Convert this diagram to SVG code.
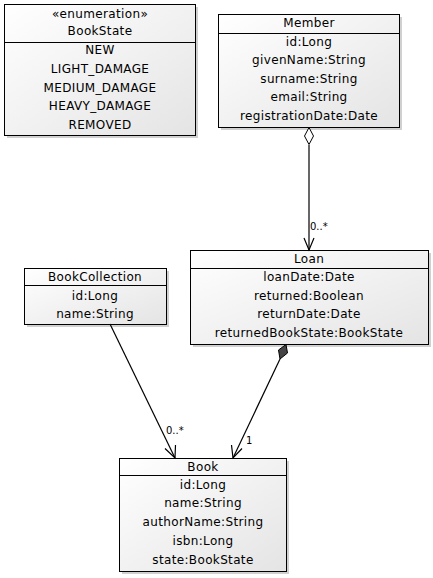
<svg xmlns="http://www.w3.org/2000/svg" width="433" height="578" viewBox="0 0 433 578">
<style>
text{font-family:"DejaVu Sans",Verdana,sans-serif;font-size:12px;letter-spacing:0.35px;fill:#000;text-anchor:middle}
.box{fill:url(#g);stroke:#000;stroke-width:1}
.sh{fill:#b0b0b0;opacity:0.6}
.div{stroke:#000;stroke-width:1}
.c{stroke:#000;stroke-width:1.2;fill:none}
.lbl{font-size:10px;letter-spacing:0;text-anchor:start}
</style>
<defs>
<linearGradient id="g" x1="0" y1="0" x2="1" y2="1">
<stop offset="0" stop-color="#ffffff"/>
<stop offset="1" stop-color="#e4e4e4"/>
</linearGradient>
</defs>
<g id="BookState">
<rect class="sh" x="7" y="7" width="191" height="131"/>
<rect class="box" x="4.5" y="4.5" width="191" height="131"/>
<line class="div" x1="4.5" y1="42.5" x2="195.5" y2="42.5"/>
<text x="100" y="18">«enumeration»</text>
<text x="100" y="35">BookState</text>
<text x="100" y="54">NEW</text>
<text x="100" y="73">LIGHT_DAMAGE</text>
<text x="100" y="92">MEDIUM_DAMAGE</text>
<text x="100" y="110">HEAVY_DAMAGE</text>
<text x="100" y="129">REMOVED</text>
</g>
<g id="Member">
<rect class="sh" x="221" y="17" width="181" height="113"/>
<rect class="box" x="218.5" y="14.5" width="181" height="113"/>
<line class="div" x1="218.5" y1="33.5" x2="399.5" y2="33.5"/>
<text x="309" y="27">Member</text>
<text x="309" y="46">id:Long</text>
<text x="309" y="64">givenName:String</text>
<text x="309" y="83">surname:String</text>
<text x="309" y="101">email:String</text>
<text x="309" y="120">registrationDate:Date</text>
</g>
<g id="Loan">
<rect class="sh" x="193" y="253" width="238" height="94"/>
<rect class="box" x="190.5" y="250.5" width="238" height="94"/>
<line class="div" x1="190.5" y1="268.5" x2="428.5" y2="268.5"/>
<text x="309" y="263">Loan</text>
<text x="309" y="281">loanDate:Date</text>
<text x="309" y="300">returned:Boolean</text>
<text x="309" y="318">returnDate:Date</text>
<text x="309" y="337">returnedBookState:BookState</text>
</g>
<g id="BookCollection">
<rect class="sh" x="27" y="271" width="142" height="56"/>
<rect class="box" x="24.5" y="268.5" width="142" height="56"/>
<line class="div" x1="24.5" y1="285.5" x2="166.5" y2="285.5"/>
<text x="95" y="281">BookCollection</text>
<text x="95" y="300">id:Long</text>
<text x="95" y="318">name:String</text>
</g>
<g id="Book">
<rect class="sh" x="122" y="461" width="167" height="113"/>
<rect class="box" x="119.5" y="458.5" width="167" height="113"/>
<line class="div" x1="119.5" y1="475.5" x2="286.5" y2="475.5"/>
<text x="203" y="471">Book</text>
<text x="203" y="489">id:Long</text>
<text x="203" y="507">name:String</text>
<text x="203" y="526">authorName:String</text>
<text x="203" y="545">isbn:Long</text>
<text x="203" y="564">state:BookState</text>
</g>
<g id="connectors">
<line class="c" x1="309" y1="145" x2="309" y2="250"/>
<polygon points="309,127.5 313.5,136 309,144.5 304.5,136" fill="#fff" stroke="#000" stroke-width="1"/>
<polyline class="c" points="304,238 309,250 314,238"/>
<text class="lbl" x="310" y="230">0..*</text>
<line class="c" x1="280" y1="359" x2="233" y2="458"/>
<polygon points="286,344.5 287.5,353 280,359 278.5,350" fill="#444" stroke="#000" stroke-width="1"/>
<polyline class="c" points="231.5,445 233,458 242,448.5"/>
<text class="lbl" x="246" y="444">1</text>
<line class="c" x1="110" y1="324" x2="175" y2="458"/>
<polyline class="c" points="165,448.5 175,458 175.5,445"/>
<text class="lbl" x="166" y="434">0..*</text>
</g>
</svg>
